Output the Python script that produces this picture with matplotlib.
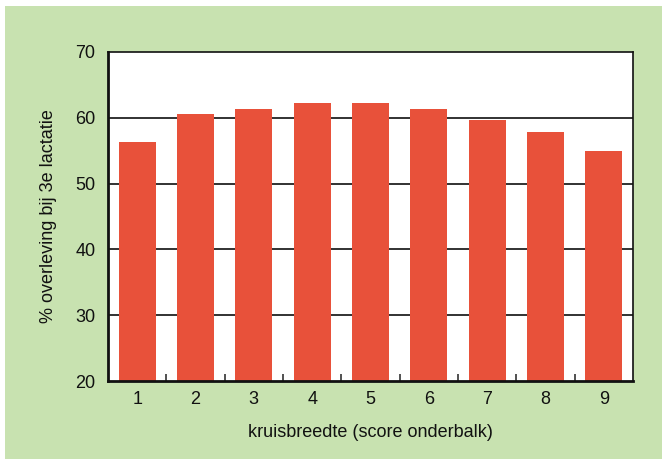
import matplotlib
matplotlib.use('Agg')
import matplotlib.pyplot as plt
from matplotlib.patches import Rectangle

plt.rcParams['font.family'] = ['Liberation Sans', 'DejaVu Sans']

## data
scores = [1, 2, 3, 4, 5, 6, 7, 8, 9]
overleving = [56.3, 60.6, 61.3, 62.2, 62.2, 61.3, 59.7, 57.8, 55.0]
y_ticks = [20, 30, 40, 50, 60, 70]

fig = plt.figure(figsize=(6.62, 4.59), dpi=100)
fig.patch.set_facecolor('white')
# green panel behind the chart
fig.patches.append(Rectangle((5 / 662, 0), 1, 453 / 459, transform=fig.transFigure,
                             facecolor='#c8e2b0', edgecolor='none', zorder=-5))

ax = fig.add_axes([108 / 662, 1 - 381 / 459, 525 / 662, 329 / 459])
ax.set_facecolor('white')

ax.bar(scores, overleving, width=0.63, color='#e8513a', zorder=3)

ax.set_xlim(0.5, 9.5)
ax.set_ylim(20, 70)
ax.set_yticks(y_ticks)
ax.set_xticks(scores)
ax.set_xticks([s + 0.5 for s in scores[:-1]], minor=True)
ax.tick_params(axis='x', which='major', length=0, labelsize=13, pad=7, labelcolor='#111111')
ax.tick_params(axis='x', which='minor', direction='in', length=5, width=1.2, color='#333333')
ax.tick_params(axis='y', length=0, labelsize=13, pad=9, labelcolor='#111111')

for v in y_ticks[1:-1]:
    ax.axhline(v, color='#222222', linewidth=1.3, zorder=1)

for side in ['top', 'right']:
    ax.spines[side].set_linewidth(1.2)
for side in ['left', 'bottom']:
    ax.spines[side].set_linewidth(2)
for s in ax.spines.values():
    s.set_color('#111111')
    s.set_zorder(4)

ax.set_xlabel('kruisbreedte (score onderbalk)', fontsize=13, labelpad=12, color='#111111')
ax.set_ylabel('% overleving bij 3e lactatie', fontsize=13, labelpad=13, color='#111111')

fig.savefig('out.png', dpi=100)
